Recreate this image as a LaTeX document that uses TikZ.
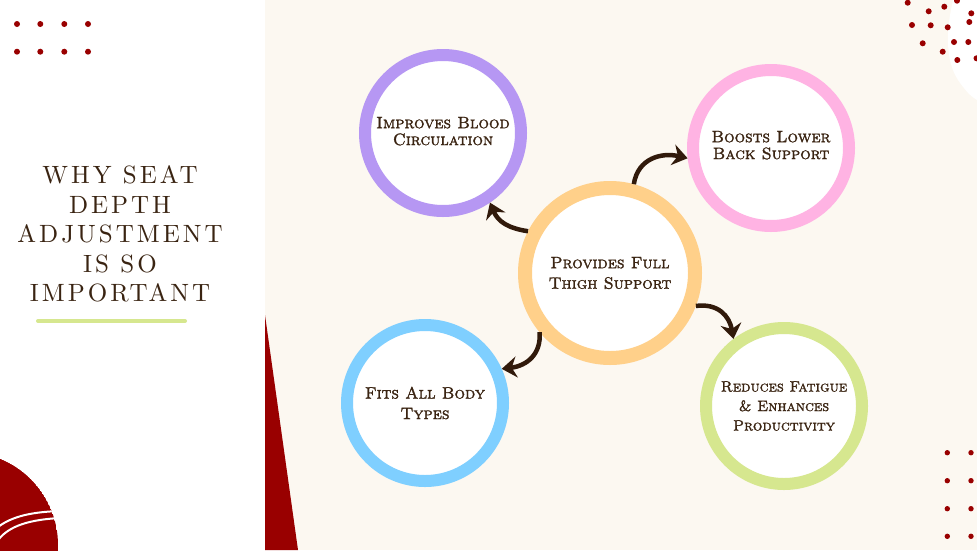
\documentclass[tikz,border=0pt]{standalone}
\usepackage{fontspec}
\newfontfamily\titlefont{lmroman10-regular.otf}[LetterSpace=12]
\newfontfamily\circfont{lmromancaps10-regular.otf}[FakeBold=1.6]
\usetikzlibrary{arrows.meta}
\definecolor{cream}{HTML}{FCF8F1}
\definecolor{dotred}{HTML}{990000}
\definecolor{txtbrown}{HTML}{3A2412}
\definecolor{arrbrown}{HTML}{311A0B}
\definecolor{ringpurple}{HTML}{B697F3}
\definecolor{ringorange}{HTML}{FFD08A}
\definecolor{ringpink}{HTML}{FFB3E3}
\definecolor{ringblue}{HTML}{7FCFFF}
\definecolor{ringgreen}{HTML}{D6E78F}
\tikzset{
  ring/.style={circle, fill=white, line width=12pt, minimum size=156pt, inner sep=0pt,
    align=center, text=txtbrown, font=\circfont\fontsize{16.5}{20.5}\selectfont},
  bigring/.style={ring, line width=14pt, minimum size=170pt},
  arr/.style={draw=arrbrown, line width=4.5pt,
    -{Stealth[length=15pt,width=21pt,inset=5pt]}},
  reddot/.style={fill=dotred}
}
\begin{document}
\begin{tikzpicture}[x=1pt,y=-1pt]
\useasboundingbox (0,0) rectangle (977,550);
% backgrounds
\fill[white] (0,0) rectangle (265,550);
\fill[cream] (265,0) rectangle (977,550);
\fill[white] (953,0) .. controls (946,30) and (945,60) .. (958,80)
  .. controls (965,90) and (970,96) .. (977,100) -- (977,0) -- cycle;
\fill[dotred] (265,315) -- (298,550) -- (265,550) -- cycle;
% bottom-left red disc with white arcs
\begin{scope}
  \clip (-35,545) circle (93pt);
  \fill[dotred] (-35,545) circle (93pt);
  \draw[white, line width=2pt] (-2,527) .. controls (10,518) and (27,512) .. (60,511);
  \draw[white, line width=2pt] (-2,540) .. controls (7,529) and (22,520) .. (60,518);
\end{scope}
% top-left dots
\foreach \x in {17,40.3,64.3,88} \foreach \y in {24,51.7} \fill[reddot] (\x,\y) circle (3pt);
% bottom-right dots
\foreach \x in {947.3,971} \foreach \y in {452.7,480.7,508.7,536.3} \fill[reddot] (\x,\y) circle (2.7pt);
% top-right scattered dots
\foreach \x/\y in {907.7/2.7,944.3/6.7,957/0.7,928.7/11.3,971.3/13.3,912/25,930.7/25.3,947.7/27.3,
  969.3/22,922.7/43.3,954/42,968.3/42,942.7/51.7,957.3/60,976.5/58.3}
  \fill[reddot] (\x,\y) circle (3pt);
% title
\node[text=txtbrown, align=center, font=\titlefont\fontsize{25}{29.5}\selectfont, inner sep=0pt]
  (title) at (120,234) {WHY SEAT\\DEPTH\\ADJUSTMENT\\IS SO\\IMPORTANT};
\draw[ringgreen, line width=4pt, line cap=round] (38,321) -- (185,321);
% circles
\node[bigring, draw=ringorange] (c) at (610,273) {Provides Full\\Thigh Support};
\node[ring, draw=ringpurple] (p) at (443,133) {\raisebox{4pt}{\shortstack{Improves Blood\\[2pt]Circulation}}};
\node[ring, draw=ringpink] (k) at (771,148) {\raisebox{6pt}{\shortstack{Boosts Lower\\[2pt]Back Support}}};
\node[ring, draw=ringblue] (b) at (425,403) {Fits All Body\\Types};
\node[ring, draw=ringgreen, font=\circfont\fontsize{15}{19.5}\selectfont] (g) at (784,406)
  {Reduces Fatigue\\\& Enhances\\Productivity};
% arrows
\draw[arr] (c.153) .. controls +(-20,-3) and +(8,19) .. (p.-56);
\draw[arr] (c.75) .. controls +(4,-26) and +(-26,-6) .. (k.187);
\draw[arr] (c.-21) .. controls +(22,-3) and +(-4,-23) .. (g.127);
\draw[arr] (c.220) .. controls +(2,22) and +(25,-3) .. (b.24);
\end{tikzpicture}
\end{document}
